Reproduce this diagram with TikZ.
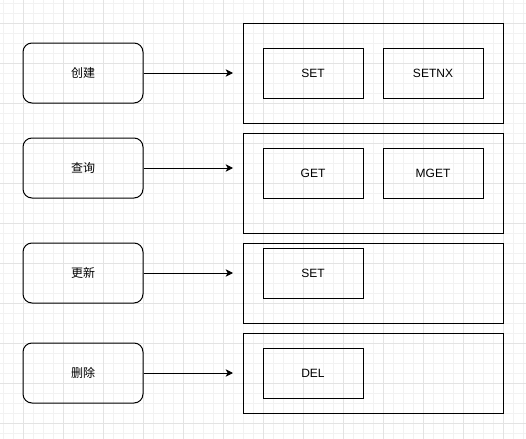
\documentclass[tikz,border=0pt]{standalone}
\usepackage{fontspec}
\setmainfont{Liberation Sans}
\newfontfamily\cjk{Noto Sans CJK SC}
\usepackage{tikz}
\usetikzlibrary{arrows.meta,positioning}

\begin{document}
\begin{tikzpicture}[x=0.75pt, y=-0.75pt, line width=0.75pt,
    font=\fontsize{9pt}{11pt}\selectfont,
    opbox/.style={draw, rectangle, rounded corners=6.75pt, minimum width=90pt, minimum height=45pt, align=center, font=\cjk\fontsize{9pt}{11pt}\selectfont},
    groupbox/.style={draw, rectangle, minimum width=195pt},
    cmdbox/.style={draw, rectangle, minimum width=75pt, minimum height=37.5pt, align=center},
    link/.style={-{Stealth[length=5.5pt, width=5.5pt, inset=1.5pt]}}]
        \useasboundingbox (0,0) rectangle (526,439);
        % Background grid
        \foreach \g in {3,13,...,523} \draw[line width=0.75pt, black!5] (\g,0) -- (\g,439);
        \foreach \g in {3,13,...,433} \draw[line width=0.75pt, black!5] (0,\g) -- (526,\g);
        \foreach \g in {23,63,...,503} \draw[line width=0.75pt, black!11] (\g,0) -- (\g,439);
        \foreach \g in {23,63,...,423} \draw[line width=0.75pt, black!11] (0,\g) -- (526,\g);

        % Operations on the left
        \node[opbox] (create) at (83,73) {创建};
        \node[opbox] (query) at (83,168) {查询};
        \node[opbox] (update) at (83,273) {更新};
        \node[opbox] (delete) at (83,373) {删除};

        % Command groups on the right
        \node[groupbox, minimum height=75pt] (creategroup) at (373,73) {};
        \node[groupbox, minimum height=75pt] (querygroup) at (373,183) {};
        \node[groupbox, minimum height=60pt] (updategroup) at (373,283) {};
        \node[groupbox, minimum height=60pt] (deletegroup) at (373,373) {};

        \node[cmdbox] (set) at (313,73) {SET};
        \node[cmdbox] (setnx) at (433,73) {SETNX};
        \node[cmdbox] (get) at (313,173) {GET};
        \node[cmdbox] (mget) at (433,173) {MGET};
        \node[cmdbox] (setagain) at (313,273) {SET};
        \node[cmdbox] (del) at (313,373) {DEL};

        % Arrow ends in front of the groups
        \coordinate (createin) at (233,73);
        \coordinate (queryin) at (233,168);
        \coordinate (updatein) at (233,273);
        \coordinate (deletein) at (233,373);

        \draw[link] (create) -- (createin);
        \draw[link] (query) -- (queryin);
        \draw[link] (update) -- (updatein);
        \draw[link] (delete) -- (deletein);
    \end{tikzpicture}
\end{document}
